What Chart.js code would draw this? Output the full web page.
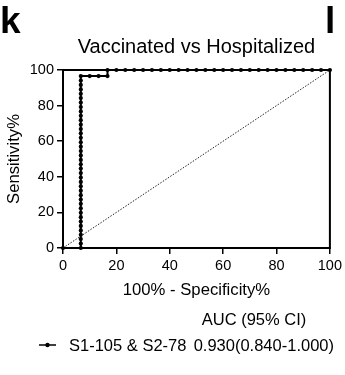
<!DOCTYPE html>
<html>
<head>
<meta charset="utf-8">
<script src="https://cdn.jsdelivr.net/npm/chart.js@4.4.0/dist/chart.umd.min.js"></script>
<style>
  html, body { margin: 0; padding: 0; background: #fff; }
  #wrap { width: 345px; height: 375px; position: relative; }
</style>
</head>
<body>
<div id="wrap"><canvas id="roc"></canvas></div>
<script>
// ROC curve: S1-105 & S2-78, vaccinated vs hospitalized
const falsePositivePct = [
  0,
  6.67, 6.67, 6.67, 6.67, 6.67, 6.67, 6.67, 6.67, 6.67, 6.67,
  6.67, 6.67, 6.67, 6.67, 6.67, 6.67, 6.67, 6.67, 6.67, 6.67,
  6.67, 6.67, 6.67, 6.67, 6.67, 6.67, 6.67, 6.67, 6.67, 6.67,
  6.67, 6.67, 6.67, 6.67, 6.67, 6.67, 6.67, 6.67, 6.67, 6.67,
  10, 13.33, 16.67,
  16.67, 20, 23.33, 26.67, 30, 33.33, 36.67, 40, 43.33, 46.67,
  50, 53.33, 56.67, 60, 63.33, 66.67, 70, 73.33, 76.67, 80,
  83.33, 86.67, 90, 93.33, 96.67, 100
];
const sensitivityPct = [
  0,
  0, 2.5, 5.0, 7.4, 9.9, 12.4, 14.9, 17.3, 19.8, 22.3,
  24.8, 27.2, 29.7, 32.2, 34.7, 37.1, 39.6, 42.1, 44.6, 47.0,
  49.5, 52.0, 54.5, 56.9, 59.4, 61.9, 64.4, 66.8, 69.3, 71.8,
  74.3, 76.7, 79.2, 81.7, 84.2, 86.6, 89.1, 91.6, 94.1, 96.6,
  96.6, 96.6, 96.6,
  100, 100, 100, 100, 100, 100, 100, 100, 100, 100,
  100, 100, 100, 100, 100, 100, 100, 100, 100, 100,
  100, 100, 100, 100, 100, 100
];
// reference line of no discrimination
const chanceX = [0, 100];
const chanceY = [0, 100];
const axisTicks = [0, 20, 40, 60, 80, 100];
const seriesName = 'S1-105 & S2-78';
const seriesAuc = '0.930(0.840-1.000)';
const aucHeader = 'AUC (95% CI)';
const chartTitle = 'Vaccinated vs Hospitalized';
const panelLeft = 'k';
const panelRight = 'l';

const FONT = '"Liberation Sans", Arial, Helvetica, sans-serif';

const rocPoints = falsePositivePct.map((x, i) => ({ x, y: sensitivityPct[i] }));
const chancePoints = chanceX.map((x, i) => ({ x, y: chanceY[i] }));

// closes the plot frame on the top and right sides
const frame = {
  id: 'frame',
  beforeDatasetsDraw(chart) {
    const { ctx, chartArea: a } = chart;
    ctx.save();
    ctx.strokeStyle = '#000';
    ctx.lineWidth = 2;
    ctx.beginPath();
    ctx.moveTo(a.left - 1, a.top);
    ctx.lineTo(a.right, a.top);
    ctx.lineTo(a.right, a.bottom + 1);
    ctx.stroke();
    ctx.restore();
  }
};

// panel letters, heading and the AUC legend
const annotations = {
  id: 'annotations',
  afterDraw(chart) {
    const { ctx, chartArea: a } = chart;
    const ds = chart.data.datasets[0];
    ctx.save();
    ctx.fillStyle = '#000';
    ctx.textBaseline = 'alphabetic';

    ctx.font = 'bold 37px ' + FONT;
    ctx.textAlign = 'left';
    ctx.fillText(panelLeft, 0, 33);
    ctx.fillText(panelRight, 325, 33);

    ctx.font = '20px ' + FONT;
    ctx.textAlign = 'center';
    ctx.fillText(chartTitle, (a.left + a.right) / 2, 53);

    ctx.font = '16.5px ' + FONT;
    ctx.textAlign = 'center';
    ctx.fillText(aucHeader, 254, 325);

    // legend marker: line with a dot
    ctx.strokeStyle = ds.borderColor;
    ctx.lineWidth = 1.5;
    ctx.beginPath();
    ctx.moveTo(39, 345);
    ctx.lineTo(56, 345);
    ctx.stroke();
    ctx.beginPath();
    ctx.arc(47.5, 345, 2.2, 0, Math.PI * 2);
    ctx.fillStyle = ds.pointBackgroundColor;
    ctx.fill();

    ctx.fillStyle = '#000';
    ctx.textAlign = 'left';
    ctx.fillText(seriesName, 69, 351);
    ctx.textAlign = 'right';
    ctx.fillText(seriesAuc, 334, 351);
    ctx.restore();
  }
};

const axisCommon = {
  type: 'linear',
  min: 0,
  max: 100,
  afterBuildTicks(scale) { scale.ticks = axisTicks.map(v => ({ value: v })); },
  grid: { drawOnChartArea: false, drawTicks: true, tickLength: 6, color: '#000', lineWidth: 1.5 },
  border: { display: true, color: '#000', width: 2 },
  ticks: { color: '#000', font: { family: FONT, size: 14.5 }, padding: 3, maxRotation: 0, autoSkip: false }
};

new Chart(document.getElementById('roc'), {
  type: 'scatter',
  data: {
    datasets: [
      {
        label: seriesName,
        data: rocPoints,
        showLine: true,
        borderColor: '#000',
        borderWidth: 2,
        pointRadius: 2.1,
        pointBackgroundColor: '#000',
        pointBorderColor: '#000',
        pointBorderWidth: 0,
        clip: 8,
        order: 1
      },
      {
        label: 'chance',
        data: chancePoints,
        showLine: true,
        borderColor: '#222',
        borderWidth: 1,
        borderDash: [1.5, 1.5],
        pointRadius: 0,
        clip: 8,
        order: 2
      }
    ]
  },
  options: {
    responsive: true,
    maintainAspectRatio: false,
    animation: false,
    devicePixelRatio: 1,
    layout: { padding: { top: 70, right: 14, bottom: 75, left: 0 } },
    plugins: { legend: { display: false }, tooltip: { enabled: false }, title: { display: false } },
    scales: {
      x: Object.assign({}, axisCommon, {
        position: 'bottom',
        title: { display: true, text: '100% - Specificity%', color: '#000', font: { family: FONT, size: 16.7 }, padding: 0 },
        afterFit(scale) { scale.height = 52; }
      }),
      y: Object.assign({}, axisCommon, {
        position: 'left',
        title: { display: true, text: 'Sensitivity%', color: '#000', font: { family: FONT, size: 16.7 }, padding: { top: 4, bottom: 0 } },
        afterFit(scale) { scale.width = 63; }
      })
    }
  },
  plugins: [frame, annotations]
});
</script>
</body>
</html>
